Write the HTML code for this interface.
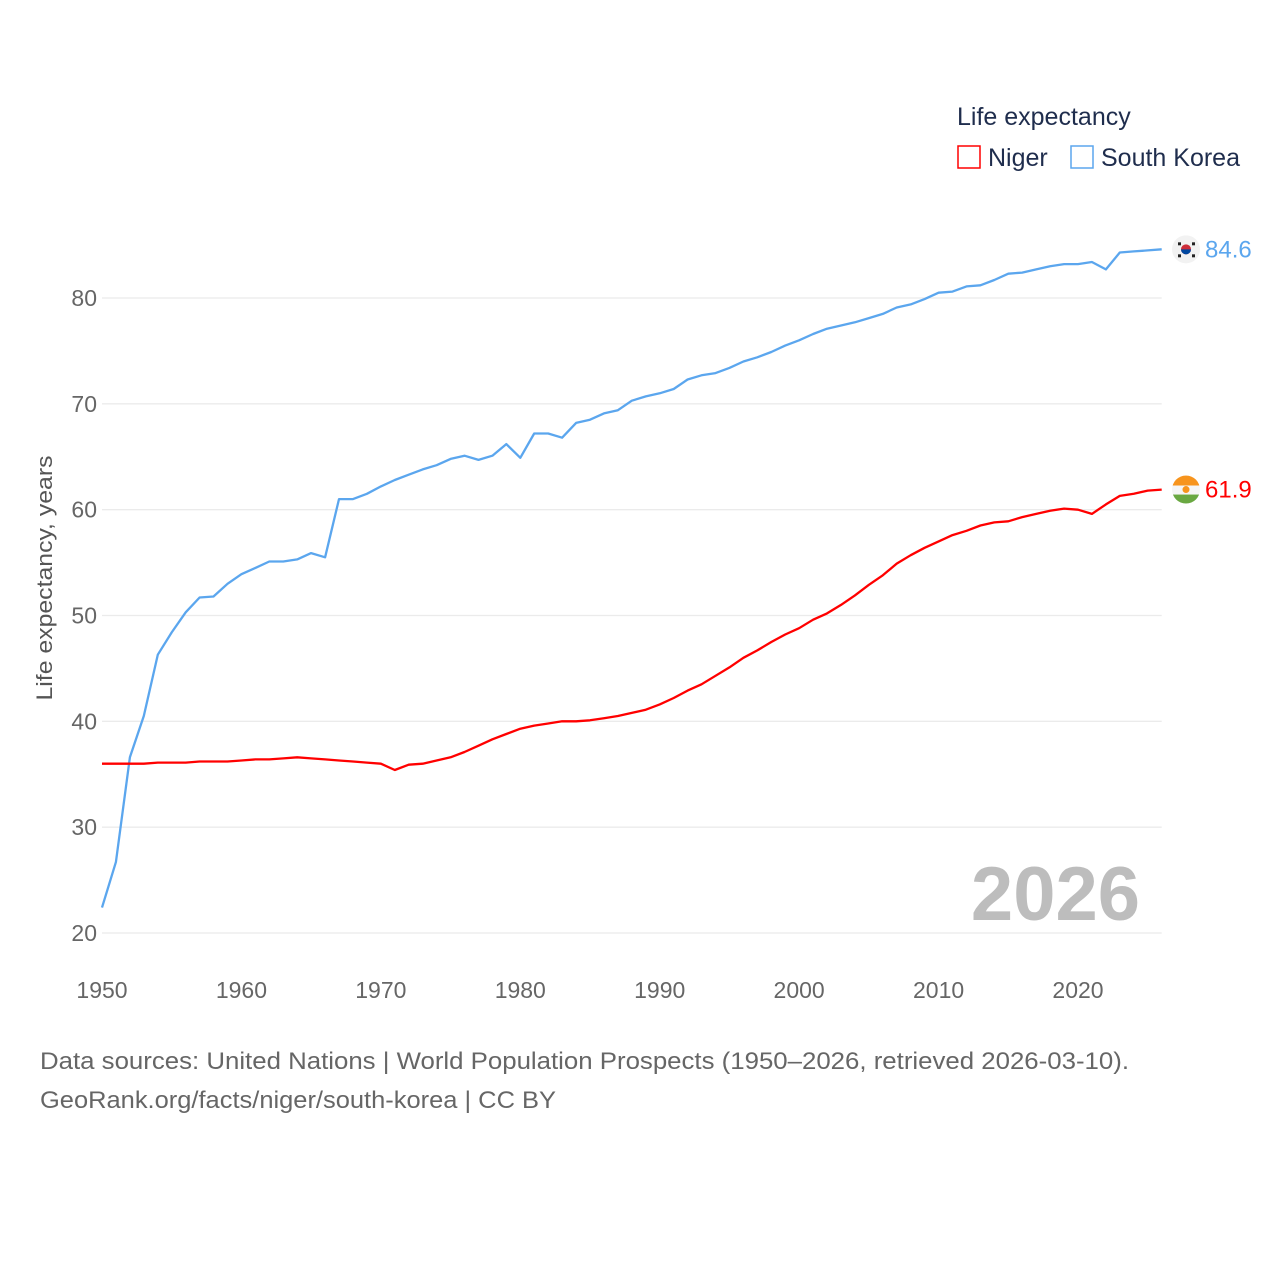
<!DOCTYPE html>
<html><head><meta charset="utf-8"><style>
body{margin:0;background:#fff;}
svg{display:block;font-family:"Liberation Sans",sans-serif;}
</style></head><body>
<svg id="chart" width="1280" height="1280" viewBox="0 0 1280 1280">
<g id="grid"></g>
<g id="yticks"></g>
<g id="xticks"></g>
<text x="52" y="578" transform="rotate(-90 52 578)" text-anchor="middle" font-size="22" fill="#555" textLength="245" lengthAdjust="spacingAndGlyphs">Life expectancy, years</text>
<text x="1140" y="920" text-anchor="end" font-size="76" font-weight="bold" fill="#bdbdbd">2026</text>
<g id="series"></g>
<g>
<text x="957" y="125" font-size="25" fill="#1f2d4d">Life expectancy</text>
<g><rect x="958" y="146" width="22" height="22" fill="none" stroke="#ff0000" stroke-width="1.5"/><text x="988" y="166" font-size="25" fill="#1f2d4d">Niger</text></g>
<g><rect x="1071" y="146" width="22" height="22" fill="none" stroke="#5ba6ee" stroke-width="1.5"/><text x="1101" y="166" font-size="25" fill="#1f2d4d">South Korea</text></g>
</g>
<text x="40" y="1069" font-size="24" fill="#666" textLength="1089" lengthAdjust="spacingAndGlyphs">Data sources: United Nations | World Population Prospects (1950–2026, retrieved 2026-03-10).</text>
<text x="40" y="1108" font-size="24" fill="#666" textLength="516" lengthAdjust="spacingAndGlyphs">GeoRank.org/facts/niger/south-korea | CC BY</text>
</svg>
<script>
const years = [];
for (let y = 1950; y <= 2026; y++) years.push(y);
const koreaValues = [22.4,26.7,36.6,40.5,46.3,48.4,50.3,51.7,51.8,53.0,53.9,54.5,55.1,55.1,55.3,55.9,55.5,61.0,61.0,61.5,62.2,62.8,63.3,63.8,64.2,64.8,65.1,64.7,65.1,66.2,64.9,67.2,67.2,66.8,68.2,68.5,69.1,69.4,70.3,70.7,71.0,71.4,72.3,72.7,72.9,73.4,74.0,74.4,74.9,75.5,76.0,76.6,77.1,77.4,77.7,78.1,78.5,79.1,79.4,79.9,80.5,80.6,81.1,81.2,81.7,82.3,82.4,82.7,83.0,83.2,83.2,83.4,82.7,84.3,84.4,84.5,84.6];
const nigerValues = [36.0,36.0,36.0,36.0,36.1,36.1,36.1,36.2,36.2,36.2,36.3,36.4,36.4,36.5,36.6,36.5,36.4,36.3,36.2,36.1,36.0,35.4,35.9,36.0,36.3,36.6,37.1,37.7,38.3,38.8,39.3,39.6,39.8,40.0,40.0,40.1,40.3,40.5,40.8,41.1,41.6,42.2,42.9,43.5,44.3,45.1,46.0,46.7,47.5,48.2,48.8,49.6,50.2,51.0,51.9,52.9,53.8,54.9,55.7,56.4,57.0,57.6,58.0,58.5,58.8,58.9,59.3,59.6,59.9,60.1,60.0,59.6,60.5,61.3,61.5,61.8,61.9];
const yTicks = [20,30,40,50,60,70,80];
const xTicks = [1950,1960,1970,1980,1990,2000,2010,2020];

const NS = "http://www.w3.org/2000/svg";
const X0 = 102, X1 = 1161.7;
function xs(yr){ return X0 + (yr-1950)*(1078-102)/70; }
function ys(v){ return 933 - (v-20)*(933-298)/60; }
function mk(tag, attrs, parent){ const e=document.createElementNS(NS,tag); for(const k in attrs) e.setAttribute(k,attrs[k]); parent.appendChild(e); return e; }

const grid=document.getElementById('grid'), yt=document.getElementById('yticks'), xt=document.getElementById('xticks'), ser=document.getElementById('series');
yTicks.forEach(v=>{
  const l=mk('line',{x1:X0,x2:X1,y1:ys(v),y2:ys(v),stroke:'#ebebeb','stroke-width':1.3},grid);
  
  
  const t=mk('text',{x:97,y:ys(v)+8,'text-anchor':'end','font-size':23,fill:'#666'},yt);
  t.textContent=v;
  
  
});
xTicks.forEach(v=>{
  const t=mk('text',{x:xs(v),y:998,'text-anchor':'middle','font-size':23,fill:'#666'},xt);
  t.textContent=v;
  
  
});
function line(vals,color,name){
  const d=vals.map((v,i)=>(i?'L':'M')+xs(years[i]).toFixed(1)+','+ys(v).toFixed(1)).join(' ');
  const p=mk('path',{d:d,fill:'none',stroke:color,'stroke-width':2.3,'stroke-linejoin':'round'},ser);
  
  
}
line(koreaValues,'#5ba6ee','south-korea-line');
line(nigerValues,'#ff0000','niger-line');

const kLast=koreaValues[koreaValues.length-1], nLast=nigerValues[nigerValues.length-1];
const kg=mk('g',{},ser);


mk('circle',{cx:1186,cy:ys(kLast),r:14,fill:'#f2f2f2'},kg);
mk('circle',{cx:1186,cy:ys(kLast),r:5,fill:'#cd2e3a'},kg);
mk('path',{d:`M1181 ${ys(kLast)} a5 5 0 0 0 10 0z`,fill:'#0047a0'},kg);
[[-8,-7],[6,-7],[-8,5],[6,5]].forEach(o=>mk('rect',{x:1186+o[0],y:ys(kLast)+o[1],width:3,height:3,fill:'#222'},kg));
const kl=mk('text',{x:1205,y:ys(kLast)+8,'font-size':24,fill:'#5ba6ee'},ser);
kl.textContent=kLast.toFixed(1);


const ng=mk('g',{},ser);


const ny=ys(nLast);
const cp=mk('clipPath',{id:'nc'},ng);
mk('circle',{cx:1186,cy:ny,r:14},cp);
const ngi=mk('g',{'clip-path':'url(#nc)'},ng);
mk('rect',{x:1172,y:ny-14,width:28,height:10,fill:'#f7941d'},ngi);
mk('rect',{x:1172,y:ny-4,width:28,height:9,fill:'#f5f5f5'},ngi);
mk('rect',{x:1172,y:ny+5,width:28,height:10,fill:'#6aa842'},ngi);
mk('circle',{cx:1186,cy:ny,r:3.5,fill:'#f7941d'},ngi);
const nl=mk('text',{x:1205,y:ny+8,'font-size':24,fill:'#ff0000'},ser);
nl.textContent=nLast.toFixed(1);


</script>
</body></html>
